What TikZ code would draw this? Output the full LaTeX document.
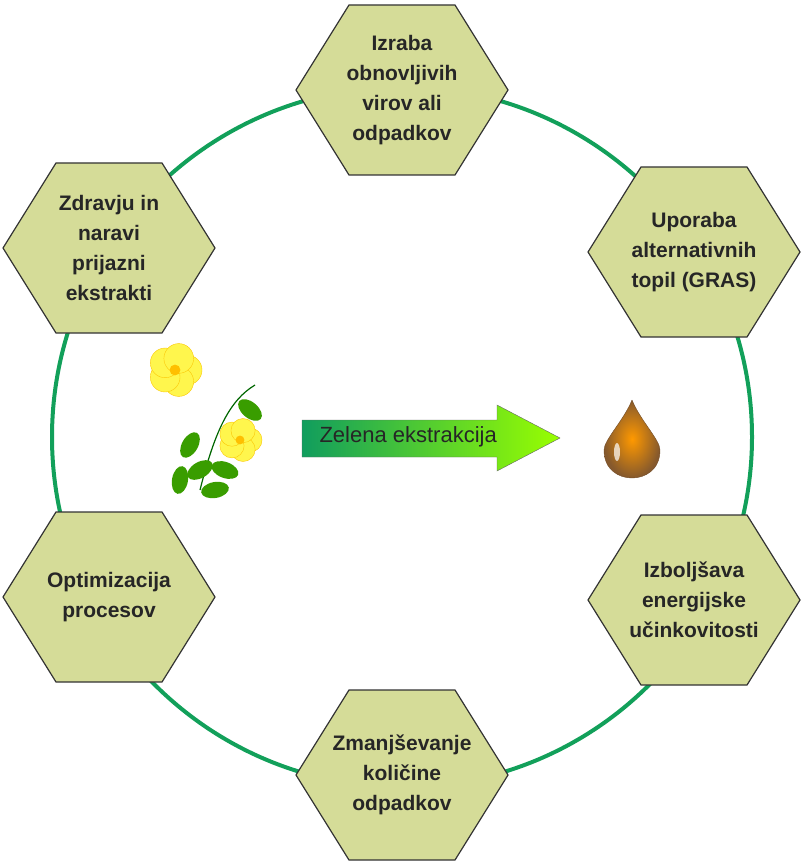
\documentclass[tikz,border=0pt]{standalone}
\usepackage{fontspec}
\setmainfont{Liberation Sans}
\usetikzlibrary{shapes.arrows}
\definecolor{hexfill}{HTML}{D5DC98}
\definecolor{ring}{HTML}{12A05A}
\begin{document}
\begin{tikzpicture}[x=1pt,y=-1pt,
  hex/.style={draw=black!80,line width=1.2pt,fill=hexfill},
  lbl/.style={align=center,font=\bfseries\fontsize{21}{30}\selectfont,text=black!85}]
\useasboundingbox (0,0) rectangle (804,866);
\draw[ring,line width=4pt] (402,437) circle (350);
\foreach \n/\x/\y in {a/402/90,b/694/252,c/694/600,d/402/775,e/109/597,f/109/248}{
  \draw[hex] (\x-106,\y) -- (\x-53,\y-85) -- (\x+53,\y-85) -- (\x+106,\y) -- (\x+53,\y+85) -- (\x-53,\y+85) -- cycle;
  \coordinate (\n) at (\x,\y);
}
\node[lbl] (ta) at (a) {Izraba\\obnovljivih\\virov ali\\odpadkov};
\node[lbl] (tb) at (b) {Uporaba\\alternativnih\\topil (GRAS)};
\node[lbl] (tc) at (c) {Izboljšava\\energijske\\učinkovitosti};
\node[lbl] (td) at (d) {Zmanjševanje\\količine\\odpadkov};
\node[lbl] (te) at (e) {Optimizacija\\procesov};
\node[lbl] (tf) at (f) {Zdravju in\\naravi\\prijazni\\ekstrakti};
% arrow
\shade[left color=ring!90!teal, right color=yellow!60!green, draw=black!60]
  (302,420) -- (497,420) -- (497,405) -- (560,438) -- (497,471) -- (497,457) -- (302,457) -- cycle;
\node[font=\fontsize{22}{24}\selectfont,text=black!85,anchor=west] (arr) at (316,437) {Zelena ekstrakcija};
% flower
\draw[green!40!black,line width=1.2pt] (200,490) .. controls (215,430) and (230,400) .. (255,385);
\foreach \px/\py/\r in {175/370/27,240/440/22}{
  \foreach \a in {0,72,...,288}
    \fill[yellow!70!white,draw=yellow!60!orange] (\px,\py) ++(\a:\r*0.45) circle (\r*0.55);
  \fill[orange!50!yellow] (\px,\py) circle (\r*0.2);
}
\foreach \lx/\ly/\ang in {200/470/30,225/470/-20,190/445/60,250/410/-40,215/490/10,180/480/80}
  \fill[green!45!black!70!lime,rotate around={\ang:(\lx,\ly)}] (\lx,\ly) ellipse (14 and 8);
% drop
\shade[inner color=orange!80!yellow,outer color=brown!70!black,draw=brown!60!black]
  (632,400) .. controls (640,420) and (660,440) .. (660,450) .. controls (660,470) and (645,478) .. (632,478)
  .. controls (619,478) and (604,470) .. (604,450) .. controls (604,440) and (624,420) .. (632,400);
\fill[white,opacity=0.7] (617,452) ellipse (3 and 9);
\end{tikzpicture}
\end{document}
